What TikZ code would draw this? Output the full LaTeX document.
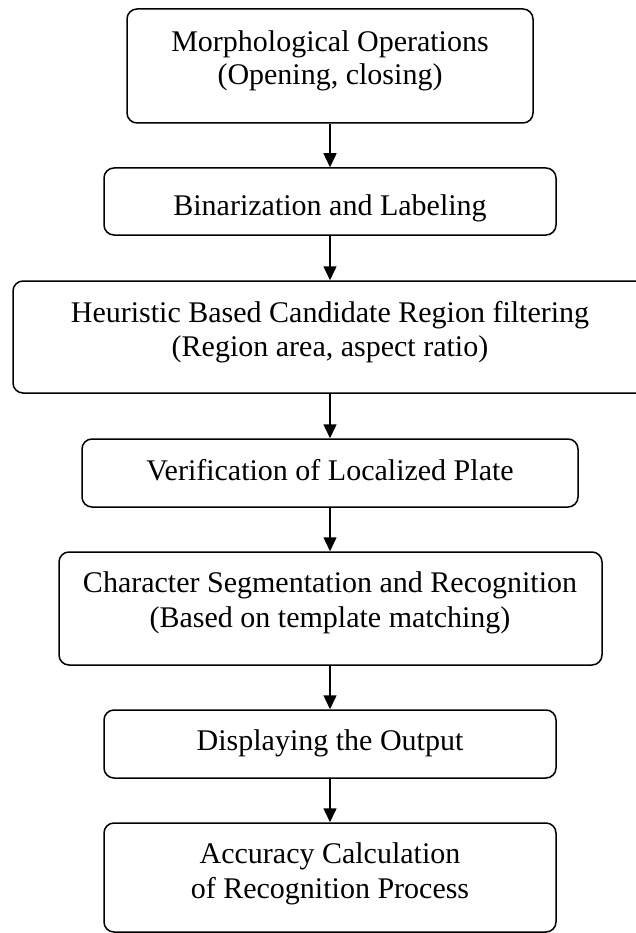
\documentclass[tikz,border=0pt]{standalone}
\usepackage{fontspec}
\setmainfont{Liberation Serif}
\usetikzlibrary{arrows.meta}
\begin{document}
\begin{tikzpicture}[x=1pt,y=-1pt,
  box/.style={draw=black, line width=1.5pt, rounded corners=10pt, inner sep=0pt},
  txt/.style={inner sep=0pt, anchor=base, font=\fontsize{30}{33}\selectfont},
  arr/.style={line width=1.5pt, -{Triangle[width=13pt,length=14pt]}}]
\useasboundingbox (0,0) rectangle (635,933);
\fill[white] (0,0) rectangle (635,933);

% process boxes
\node[box, minimum width=406pt, minimum height=114pt] (b1) at (330,66) {};
\node[box, minimum width=452pt, minimum height=67pt]  (b2) at (330,201.5) {};
\node[box, minimum width=634pt, minimum height=112pt] (b3) at (330,337) {};
\node[box, minimum width=496pt, minimum height=68pt]  (b4) at (330,473) {};
\node[box, minimum width=543pt, minimum height=113pt] (b5) at (330.5,608.5) {};
\node[box, minimum width=452pt, minimum height=68pt]  (b6) at (330,744) {};
\node[box, minimum width=452pt, minimum height=109pt] (b7) at (330,877.5) {};

% box captions
\node[txt] (t1a) at (330,52)  {Morphological Operations};
\node[txt] (t1b) at (330,85)  {(Opening, closing)};
\node[txt] (t2)  at (330,215) {Binarization and Labeling};
\node[txt] (t3a) at (330,322) {Heuristic Based Candidate Region filtering};
\node[txt] (t3b) at (330,356) {(Region area, aspect ratio)};
\node[txt] (t4)  at (330,480) {Verification of Localized Plate};
\node[txt] (t5a) at (330,592) {Character Segmentation and Recognition};
\node[txt] (t5b) at (330,627) {(Based on template matching)};
\node[txt] (t6)  at (330,750) {Displaying the Output};
\node[txt] (t7a) at (330,863) {Accuracy Calculation};
\node[txt] (t7b) at (330,898) {of Recognition Process};

% flow arrows
\draw[arr] (b1.south) -- (b2.north);
\draw[arr] (b2.south) -- (b3.north);
\draw[arr] (b3.south) -- (b4.north);
\draw[arr] (b4.south) -- (b5.north -| b4.south);
\draw[arr] (b5.south -| b4.south) -- (b6.north);
\draw[arr] (b6.south) -- (b7.north);
\end{tikzpicture}
\end{document}
